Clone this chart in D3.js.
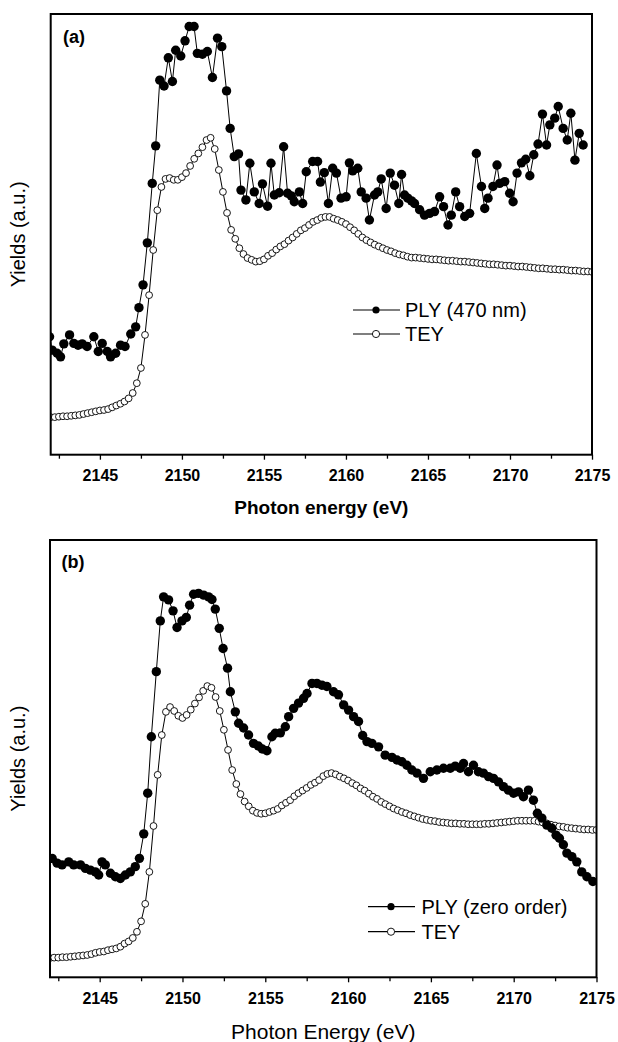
<!DOCTYPE html>
<html>
<head>
<meta charset="utf-8">
<script src="https://cdn.jsdelivr.net/npm/d3@7/dist/d3.min.js"></script>
<style>
  html, body { margin: 0; padding: 0; background: #fff; }
  svg { display: block; font-family: "Liberation Sans", Arial, Helvetica, sans-serif; }
</style>
</head>
<body>
<svg id="chart" width="618" height="1042"></svg>
<script>
// ---- Data: S K-edge spectra, yields in arbitrary units ----
const energyDomain = [2142, 2175];
const majorTicks = [2145, 2150, 2155, 2160, 2165, 2170, 2175];
const minorTicks = [2142.5, 2147.5, 2152.5, 2157.5, 2162.5, 2167.5, 2172.5];

// TEY recorded on a 0.25 eV grid from 2142 to 2175 eV
const teyStart = 2142, teyStep = 0.25;

// Panel (a): PLY at 470 nm
const plyAEnergy = [
  2141.93, 2142.09, 2142.39, 2142.60, 2142.80, 2143.15, 2143.41, 2143.67, 2143.92, 2144.22,
  2144.63, 2144.90, 2145.14, 2145.45, 2145.65, 2145.96, 2146.26, 2146.53, 2146.88, 2147.18,
  2147.38, 2147.63, 2147.89, 2148.19, 2148.40, 2148.65, 2148.91, 2149.17, 2149.42, 2149.62,
  2149.93, 2150.19, 2150.44, 2150.74, 2150.94, 2151.25, 2151.55, 2151.86, 2152.17, 2152.43,
  2152.72, 2152.94, 2153.19, 2153.45, 2153.60, 2153.90, 2154.14, 2154.41, 2154.71, 2154.91,
  2155.22, 2155.43, 2155.63, 2155.93, 2156.20, 2156.44, 2156.67, 2156.85, 2157.16, 2157.36,
  2157.58, 2157.97, 2158.27, 2158.44, 2158.68, 2158.93, 2159.19, 2159.42, 2159.70, 2160.01,
  2160.21, 2160.41, 2160.72, 2160.93, 2161.23, 2161.43, 2161.74, 2161.94, 2162.15, 2162.45,
  2162.70, 2162.96, 2163.22, 2163.39, 2163.57, 2163.77, 2164.00, 2164.18, 2164.49, 2164.79,
  2165.10, 2165.40, 2165.71, 2165.95, 2166.22, 2166.42, 2166.69, 2166.93, 2167.24, 2167.54,
  2167.95, 2168.26, 2168.46, 2168.66, 2168.96, 2169.21, 2169.37, 2169.68, 2169.98, 2170.19,
  2170.43, 2170.70, 2170.96, 2171.21, 2171.45, 2171.71, 2171.98, 2172.23, 2172.43, 2172.73,
  2172.94, 2173.24, 2173.49, 2173.71, 2173.96, 2174.22, 2174.46
];
const plyAYield = [
  27.8, 24.8, 24.1, 23.3, 26.2, 28.2, 26.3, 25.9, 26.2, 25.6,
  27.8, 24.5, 26.3, 24.5, 23.3, 24.1, 25.9, 25.6, 28.4, 30.0,
  34.3, 39.4, 48.8, 62.1, 70.5, 85.2, 83.9, 90.2, 84.9, 91.9,
  90.6, 94.0, 97.2, 97.2, 91.2, 91.0, 91.6, 85.8, 94.6, 92.7,
  82.8, 74.4, 68.1, 68.7, 60.6, 58.4, 66.6, 60.2, 57.6, 62.0,
  57.0, 66.6, 59.5, 60.0, 70.3, 59.9, 59.3, 58.0, 60.2, 57.6,
  64.7, 67.0, 67.0, 62.4, 64.5, 57.6, 65.5, 64.4, 58.8, 59.1,
  66.7, 64.9, 65.5, 60.2, 58.8, 53.9, 59.5, 60.2, 63.1, 56.5,
  64.4, 61.7, 57.6, 64.1, 59.5, 58.8, 58.2, 57.6, 56.2, 55.0,
  55.4, 55.8, 59.1, 56.9, 52.8, 55.0, 60.2, 56.9, 54.7, 55.4,
  68.8, 61.4, 56.5, 58.8, 61.4, 66.2, 62.1, 62.5, 59.9, 58.0,
  64.4, 66.7, 67.5, 63.8, 68.5, 70.9, 77.6, 70.7, 75.2, 76.7,
  79.3, 74.4, 71.8, 77.8, 67.3, 73.3, 70.7
];
// Panel (a): TEY
const teyAYield = [
  9.8, 9.8, 9.9, 10.0, 10.0, 10.1, 10.2, 10.3, 10.5, 10.7,
  10.9, 11.1, 11.3, 11.4, 11.6, 12.0, 12.4, 12.8, 13.3, 14.0,
  15.2, 17.4, 20.8, 28.2, 37.1, 47.2, 56.1, 61.3, 63.1, 63.3,
  62.9, 62.9, 63.5, 64.4, 66.0, 67.6, 68.8, 70.2, 71.8, 72.3,
  69.8, 65.1, 60.2, 55.5, 51.7, 49.7, 47.6, 46.3, 45.4, 45.0,
  44.6, 44.7, 45.1, 45.9, 46.5, 47.3, 48.0, 48.5, 49.3, 50.0,
  50.8, 51.6, 52.1, 52.8, 53.5, 53.9, 54.4, 54.6, 54.6, 54.2,
  53.9, 53.5, 53.0, 52.3, 51.6, 50.8, 50.0, 49.4, 48.9, 48.4,
  48.0, 47.6, 47.2, 46.9, 46.5, 46.2, 46.0, 45.7, 45.5, 45.5,
  45.4, 45.3, 45.2, 45.1, 45.1, 45.0, 44.9, 44.8, 44.8, 44.7,
  44.6, 44.6, 44.5, 44.4, 44.3, 44.2, 44.1, 44.0, 44.0, 43.9,
  43.8, 43.7, 43.7, 43.6, 43.5, 43.5, 43.4, 43.3, 43.2, 43.1,
  43.1, 43.0, 42.9, 42.9, 42.8, 42.8, 42.7, 42.6, 42.6, 42.5,
  42.4, 42.4, 42.3
];

// Panel (b): PLY, zero order
const plyBEnergy = [
  2142.13, 2142.43, 2142.73, 2143.13, 2143.43, 2143.84, 2144.14, 2144.44, 2144.74, 2144.94,
  2145.14, 2145.34, 2145.65, 2145.95, 2146.25, 2146.55, 2146.85, 2147.15, 2147.40, 2147.66,
  2147.90, 2148.12, 2148.42, 2148.66, 2148.86, 2149.16, 2149.43, 2149.67, 2149.97, 2150.23,
  2150.43, 2150.67, 2150.97, 2151.28, 2151.58, 2151.78, 2151.98, 2152.22, 2152.45, 2152.72,
  2152.89, 2153.19, 2153.39, 2153.69, 2153.99, 2154.29, 2154.58, 2154.82, 2155.10, 2155.40,
  2155.60, 2155.91, 2156.21, 2156.41, 2156.71, 2157.01, 2157.31, 2157.52, 2157.82, 2158.12,
  2158.42, 2158.72, 2159.12, 2159.42, 2159.73, 2160.03, 2160.33, 2160.63, 2160.88, 2161.14,
  2161.44, 2161.84, 2162.24, 2162.65, 2162.95, 2163.25, 2163.55, 2163.85, 2164.16, 2164.55,
  2164.96, 2165.36, 2165.76, 2166.17, 2166.47, 2166.77, 2166.97, 2167.27, 2167.57, 2167.87,
  2168.17, 2168.48, 2168.78, 2169.08, 2169.38, 2169.68, 2169.99, 2170.29, 2170.59, 2170.89,
  2171.19, 2171.43, 2171.70, 2172.00, 2172.30, 2172.56, 2172.76, 2173.00, 2173.21, 2173.51,
  2173.81, 2174.11, 2174.42, 2174.78
];
const plyBYield = [
  27.2, 26.1, 25.7, 26.4, 25.7, 25.7, 24.9, 24.5, 24.1, 23.4,
  26.4, 25.7, 23.8, 23.0, 22.6, 23.4, 24.1, 25.3, 27.2, 32.8,
  42.1, 55.0, 69.9, 81.5, 87.0, 86.3, 83.8, 80.0, 81.5, 82.3,
  85.1, 87.6, 87.8, 87.4, 87.0, 86.4, 84.2, 79.8, 75.2, 70.7,
  65.3, 60.7, 58.1, 57.0, 55.4, 53.5, 52.9, 52.2, 51.8, 55.0,
  55.8, 55.9, 57.3, 59.6, 61.5, 62.7, 63.8, 64.9, 67.2, 67.2,
  66.8, 66.5, 65.3, 64.6, 62.3, 61.1, 59.6, 58.5, 55.3, 53.9,
  53.5, 52.7, 50.8, 50.3, 49.7, 49.3, 48.5, 47.4, 46.7, 45.5,
  47.0, 47.4, 47.8, 47.8, 48.3, 47.8, 48.9, 47.0, 48.5, 47.0,
  46.7, 45.9, 45.5, 44.7, 43.6, 42.8, 42.1, 42.4, 41.3, 42.8,
  40.5, 37.5, 36.4, 34.8, 34.1, 32.5, 31.8, 30.3, 28.4, 27.6,
  26.4, 24.1, 23.0, 21.9
];
// Panel (b): TEY
const teyBYield = [
  4.4, 4.5, 4.5, 4.6, 4.6, 4.7, 4.8, 4.9, 5.0, 5.1,
  5.3, 5.6, 5.8, 5.9, 6.2, 6.4, 6.6, 7.0, 7.7, 8.2,
  9.0, 10.4, 12.8, 16.8, 24.1, 34.6, 46.3, 55.4, 60.7, 61.8,
  60.9, 59.8, 59.3, 60.0, 61.2, 62.6, 64.0, 65.5, 66.6, 66.2,
  64.1, 60.9, 56.6, 52.0, 47.4, 44.2, 41.9, 40.2, 39.1, 38.1,
  37.6, 37.4, 37.5, 37.8, 38.1, 38.5, 39.3, 39.9, 40.5, 41.4,
  42.1, 42.7, 43.3, 44.0, 44.5, 45.1, 46.0, 46.5, 46.7, 46.4,
  45.9, 45.5, 45.0, 44.4, 43.9, 43.2, 42.7, 42.0, 41.3, 40.8,
  40.1, 39.6, 39.1, 38.6, 38.2, 37.8, 37.5, 37.1, 36.8, 36.5,
  36.2, 36.0, 35.8, 35.7, 35.5, 35.4, 35.3, 35.2, 35.2, 35.1,
  35.1, 35.0, 35.0, 35.0, 35.0, 35.1, 35.1, 35.2, 35.3, 35.4,
  35.5, 35.6, 35.7, 35.8, 35.8, 35.8, 35.8, 35.8, 35.6, 35.4,
  35.2, 34.9, 34.7, 34.5, 34.4, 34.2, 34.1, 34.0, 33.9, 33.8,
  33.8, 33.7, 33.7
];

const panelLabels = ["(a)", "(b)"];
const legendLabels = [["PLY (470 nm)", "TEY"], ["PLY (zero order)", "TEY"]];
const xTitles = ["Photon energy (eV)", "Photon Energy (eV)"];
const yTitle = "Yields (a.u.)";

// ---- Layout ----
const panels = [
  {
    id: "a", left: 50.7, right: 592, top: 14, bottom: 454.7, yDomain: [1.4, 100],
    ply: plyAEnergy.map((e, i) => [e, plyAYield[i]]),
    tey: teyAYield.map((v, i) => [teyStart + i * teyStep, v]),
    teyOnTop: true, xTitleBold: true, xTitleSize: 19, xTitleY: 514,
    legend: { x0: 353, x1: 400, mx: 376, tx: 405, y: [310, 334] },
    labelPos: [63, 43]
  },
  {
    id: "b", left: 50, right: 596.5, top: 540, bottom: 977.3, yDomain: [0, 100],
    ply: plyBEnergy.map((e, i) => [e, plyBYield[i]]),
    tey: teyBYield.map((v, i) => [teyStart + i * teyStep, v]),
    teyOnTop: false, xTitleBold: false, xTitleSize: 21, xTitleY: 1038.5,
    legend: { x0: 368, x1: 415, mx: 391, tx: 421.5, y: [906.7, 931.7] },
    labelPos: [61.5, 568]
  }
];

const svg = d3.select("#chart");
svg.append("rect").attr("width", 618).attr("height", 1042).attr("fill", "#fff");

panels.forEach((p, pi) => {
  const x = d3.scaleLinear().domain(energyDomain).range([p.left, p.right]);
  const y = d3.scaleLinear().domain(p.yDomain).range([p.bottom, p.top]);
  const g = svg.append("g").attr("class", "panel-" + p.id);

  const clipId = "clip-" + p.id;
  svg.append("clipPath").attr("id", clipId)
    .append("rect")
    .attr("x", p.left).attr("y", p.top)
    .attr("width", p.right - p.left).attr("height", p.bottom - p.top);

  const plot = g.append("g").attr("clip-path", `url(#${clipId})`);
  const line = d3.line().x(d => x(d[0])).y(d => y(d[1]));

  function drawPly() {
    plot.append("path").datum(p.ply)
      .attr("d", line).attr("fill", "none")
      .attr("stroke", "#000").attr("stroke-width", 1);
    plot.append("g").selectAll("circle").data(p.ply).join("circle")
      .attr("cx", d => x(d[0])).attr("cy", d => y(d[1]))
      .attr("r", 4.7).attr("fill", "#000");
  }
  function drawTey() {
    plot.append("path").datum(p.tey)
      .attr("d", line).attr("fill", "none")
      .attr("stroke", "#000").attr("stroke-width", 1);
    plot.append("g").selectAll("circle").data(p.tey).join("circle")
      .attr("cx", d => x(d[0])).attr("cy", d => y(d[1]))
      .attr("r", 3.4).attr("fill", "#fff")
      .attr("stroke", "#000").attr("stroke-width", 0.9);
  }
  if (p.teyOnTop) { drawPly(); drawTey(); } else { drawTey(); drawPly(); }

  // Bottom axis: labelled major ticks plus unlabelled minor ticks
  const axisG = g.append("g").attr("transform", `translate(0,${p.bottom})`);
  axisG.call(d3.axisBottom(x).tickValues(majorTicks).tickSize(5).tickPadding(10)
      .tickFormat(d3.format("d")))
    .call(a => a.select(".domain").remove())
    .call(a => a.selectAll("line").attr("stroke", "#000").attr("stroke-width", 1.3))
    .call(a => a.selectAll("text")
      .attr("fill", "#000").attr("font-size", 16).attr("font-weight", "bold")
      .attr("font-family", '"Liberation Sans", Arial, sans-serif'));
  const minorG = g.append("g").attr("transform", `translate(0,${p.bottom})`);
  minorG.call(d3.axisBottom(x).tickValues(minorTicks).tickSize(4).tickFormat(""))
    .call(a => a.select(".domain").remove())
    .call(a => a.selectAll("line").attr("stroke", "#000").attr("stroke-width", 1.3));

  // Frame
  g.append("rect")
    .attr("x", p.left).attr("y", p.top)
    .attr("width", p.right - p.left).attr("height", p.bottom - p.top)
    .attr("fill", "none").attr("stroke", "#000").attr("stroke-width", 2);

  // Panel tag
  g.append("text").attr("x", p.labelPos[0]).attr("y", p.labelPos[1])
    .attr("font-size", 18).attr("font-weight", "bold").attr("fill", "#000")
    .text(panelLabels[pi]);

  // Axis titles
  g.append("text")
    .attr("x", (p.left + p.right) / 2).attr("y", p.xTitleY)
    .attr("text-anchor", "middle").attr("font-size", p.xTitleSize)
    .attr("font-weight", p.xTitleBold ? "bold" : "normal").attr("fill", "#000")
    .text(xTitles[pi]);
  g.append("text")
    .attr("transform", `translate(25,${(p.top + p.bottom) / 2}) rotate(-90)`)
    .attr("text-anchor", "middle").attr("font-size", 20).attr("fill", "#000")
    .text(yTitle);

  // Legend
  const L = p.legend;
  legendLabels[pi].forEach((label, li) => {
    const ly = L.y[li];
    const lg = g.append("g");
    lg.append("line").attr("x1", L.x0).attr("x2", L.x1).attr("y1", ly).attr("y2", ly)
      .attr("stroke", "#000").attr("stroke-width", 1.2);
    lg.append("circle").attr("cx", L.mx).attr("cy", ly).attr("r", 3.6)
      .attr("fill", li === 0 ? "#000" : "#fff")
      .attr("stroke", "#000").attr("stroke-width", li === 0 ? 0 : 0.9);
    lg.append("text").attr("x", L.tx).attr("y", ly + 7)
      .attr("font-size", 20).attr("fill", "#000").text(label);
  });
});
</script>
</body>
</html>
